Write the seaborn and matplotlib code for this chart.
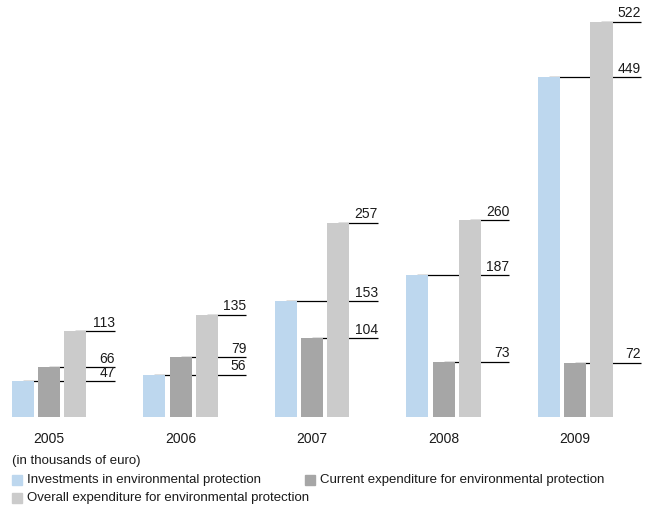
import matplotlib
matplotlib.use("Agg")
import matplotlib.pyplot as plt
import seaborn as sns
import pandas as pd
from matplotlib.patches import Rectangle

years = ["2005", "2006", "2007", "2008", "2009"]
investments = [47, 56, 153, 187, 449]
current = [66, 79, 104, 73, 72]
overall = [113, 135, 257, 260, 522]
series = ["Investments in environmental protection",
          "Current expenditure for environmental protection",
          "Overall expenditure for environmental protection"]
colors = ["#BDD7EE", "#A6A6A6", "#CBCBCB"]
unit_note = "(in thousands of euro)"

sns.set_theme(style="white")
plt.rcParams["font.family"] = ["Liberation Sans", "DejaVu Sans"]
plt.rcParams["font.size"] = 9.5
FS = 9.5
TC = "#1a1a1a"

rows = []
for s, vals in zip(series, [investments, current, overall]):
    for y, v in zip(years, vals):
        rows.append({"year": y, "series": s, "value": v})
df = pd.DataFrame(rows)

fig = plt.figure(figsize=(6.55, 5.07), dpi=100)
ax = fig.add_axes([0, 90 / 507, 1, 417 / 507])
sns.barplot(data=df, x="year", y="value", hue="series", order=years,
            hue_order=series, palette=colors, width=0.6, gap=0.16,
            saturation=1, legend=False, ax=ax, zorder=2, errorbar=None,
            linewidth=0)

ax.set_xlim(-0.373, 4.607)
ax.set_ylim(0, 551)
for sp in ax.spines.values():
    sp.set_visible(False)
ax.set_yticks([])
ax.set_xlabel("")
ax.set_ylabel("")
ax.tick_params(axis="x", length=0, pad=11, labelsize=10, labelcolor=TC)

# leader lines and value labels
for b in ax.patches:
    h = b.get_height()
    if h <= 0:
        continue
    xc = b.get_x() + b.get_width() / 2
    grp = round(xc)
    xend = grp + 0.5
    ax.plot([xc, xend], [h, h], color="black", lw=0.9, zorder=1,
            solid_capstyle="butt")
    ax.text(xend, h + 2, f"{h:.0f}", ha="right", va="bottom",
            fontsize=10, color=TC)

# notes and legend
fig.text(12 / 655, 1 - 461 / 507, unit_note, ha="left", va="center",
         fontsize=FS, color=TC)
legend_pos = [(12, 480), (305, 480), (12, 498)]
for (px, py), s, c in zip(legend_pos, series, colors):
    fig.patches.append(Rectangle((px / 655, 1 - (py + 5) / 507), 10 / 655, 10 / 507,
                                 transform=fig.transFigure, color=c))
    fig.text((px + 15) / 655, 1 - py / 507, s, ha="left", va="center",
             fontsize=FS, color=TC)

fig.savefig("out.png", dpi=100)
